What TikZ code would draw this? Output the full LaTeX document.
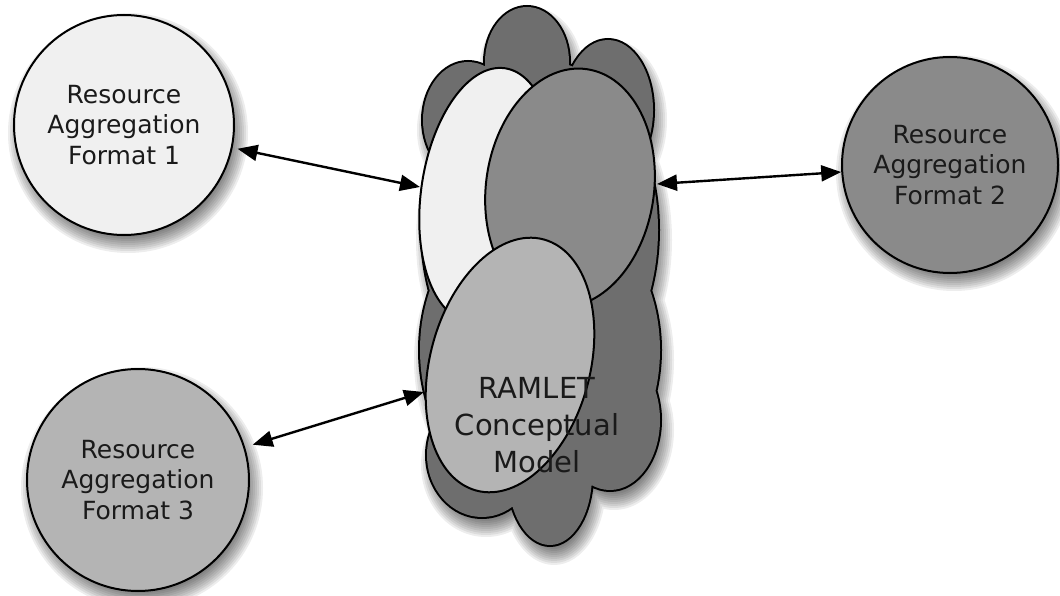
\documentclass[tikz,border=0pt]{standalone}
\usepackage{fontspec}
\setmainfont{DejaVu Sans}
\usetikzlibrary{arrows.meta}
\definecolor{paleFill}{HTML}{F0F0F0}
\definecolor{midFill}{HTML}{8A8A8A}
\definecolor{lightFill}{HTML}{B4B4B4}
\definecolor{cloudFill}{HTML}{6E6E6E}
\definecolor{inkText}{HTML}{1A1A1A}
\begin{document}
\begin{tikzpicture}[x=1pt,y=-1pt,
  fmt/.style={circle, draw=black, line width=2pt, minimum size=220pt,
      inner sep=0pt, align=center, text=inkText,
      font=\fontsize{25}{30.5}\selectfont},
  link/.style={{Triangle[length=20pt,width=16pt]}-{Triangle[length=20pt,width=16pt]},
      line width=2.4pt},
  part/.style={draw=black, line width=2pt},
  shadelayer/.style={fill=black, fill opacity=0.07},
]
\useasboundingbox (0,0) rectangle (1060,596);

% soft drop shadows of the format circles
\foreach \cx/\cy/\r in {124/125/110, 950/165/108, 138/480/111}
  \foreach \k in {0,...,9}
    \fill[shadelayer] (\cx+4,\cy+8) circle [radius=\r+10-2*\k];

% format circles
\node[fmt, fill=paleFill]  (f1) at (124,125) {Resource\\Aggregation\\Format 1};
\node[fmt, fill=midFill, minimum size=216pt] (f2) at (950,165) {Resource\\Aggregation\\Format 2};
\node[fmt, fill=lightFill, minimum size=222pt] (f3) at (138,480) {Resource\\Aggregation\\Format 3};

% cloud of the conceptual model: soft shadow, outline, filled union of lobes
\foreach \k in {0,...,9}
  \fill[shadelayer] foreach \x/\y/\a/\b in
    {527/62/42/55, 608/110/45/70, 468/120/45/58, 540/230/118/170,
     540/350/120/150, 482/455/55/62, 550/475/42/70, 610/420/50/70}
    {(\x+4,\y+10) ellipse [x radius=\a+10-2*\k, y radius=\b+10-2*\k]};
\draw[line width=4pt] foreach \x/\y/\a/\b in
  {527/62/42/55, 608/110/45/70, 468/120/45/58, 540/230/118/170,
   540/350/120/150, 482/455/55/62, 550/475/42/70, 610/420/50/70}
  {(\x,\y) ellipse [x radius=\a, y radius=\b]};
\fill[cloudFill] foreach \x/\y/\a/\b in
  {527/62/42/55, 608/110/45/70, 468/120/45/58, 540/230/118/170,
   540/350/120/150, 482/455/55/62, 550/475/42/70, 610/420/50/70}
  {(\x,\y) ellipse [x radius=\a, y radius=\b]};

% overlapping views inside the cloud
\begin{scope}[shift={(487,195)}, rotate=-8]
  \draw[part, fill=paleFill] (0,0) ellipse [x radius=66, y radius=128];
\end{scope}
\begin{scope}[shift={(570,188)}, rotate=-8]
  \draw[part, fill=midFill] (0,0) ellipse [x radius=84, y radius=120];
\end{scope}
\begin{scope}[shift={(510,365)}, rotate=-15]
  \draw[part, fill=lightFill] (0,0) ellipse [x radius=80, y radius=130];
\end{scope}

\node[align=center, text=inkText, font=\fontsize{29}{37}\selectfont]
  (model) at (537,425) {RAMLET\\Conceptual\\Model};

% connector ends on the cloud border
\coordinate (e1) at (420,187);
\coordinate (e2) at (657,184);
\coordinate (e3) at (424,392);

\draw[link, shorten <=5pt] (f1) -- (e1);
\draw[link] (e2) -- (f2);
\draw[link, shorten <=8pt] (f3) -- (e3);
\end{tikzpicture}
\end{document}
